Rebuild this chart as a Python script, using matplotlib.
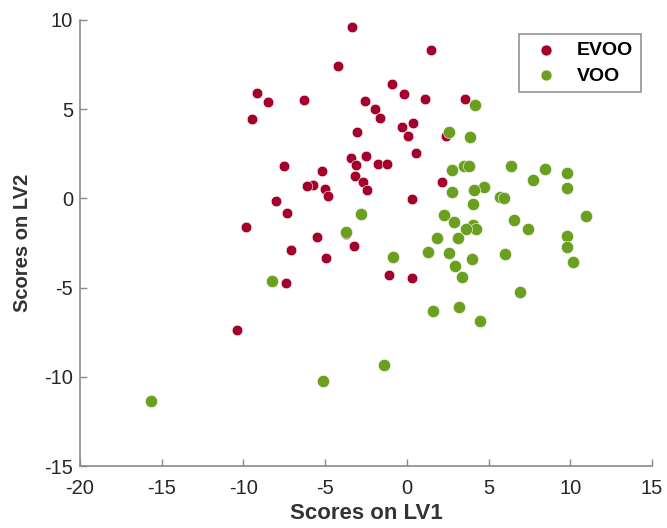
import matplotlib.pyplot as plt

plt.rcParams["font.family"] = ["Liberation Sans", "DejaVu Sans"]
plt.rcParams["axes.unicode_minus"] = False

# EVOO scores (LV1, LV2)
evoo_lv1 = [-3.37, 1.47, -4.24, -0.88, -9.20, -0.20, 1.08, 3.53, -6.29, -8.49,
            -2.55, -1.98, -1.65, -9.47, 0.37, -0.27, -3.06, 0.08, 2.39, 0.57,
            -2.51, -3.41, -1.76, -1.24, -3.12, -7.49, -5.20, -3.18, -2.67, 2.14,
            -5.77, -6.14, -5.02, -2.41, -4.85, -8.02, 0.31, -7.36, -9.87, -3.73,
            -5.53, -3.22, -7.06, -4.94, -1.10, 0.31, -7.41, -10.42]
evoo_lv2 = [9.63, 8.29, 7.43, 6.42, 5.90, 5.83, 5.55, 5.55, 5.49, 5.42,
            5.44, 5.01, 4.51, 4.45, 4.23, 3.98, 3.74, 3.48, 3.48, 2.53,
            2.36, 2.25, 1.90, 1.90, 1.88, 1.84, 1.56, 1.28, 0.93, 0.91,
            0.76, 0.69, 0.50, 0.45, 0.13, -0.13, -0.06, -0.80, -1.60, -2.01,
            -2.18, -2.66, -2.92, -3.33, -4.30, -4.45, -4.77, -7.36]

# VOO scores (LV1, LV2)
voo_lv1 = [4.14, 2.55, 3.88, 3.47, 3.82, 6.36, 2.79, 8.45, 9.81, 7.71,
           9.81, 4.73, 4.12, 2.79, 5.71, 5.96, 4.06, -2.82, 2.28, 10.97,
           6.57, 2.90, 4.02, 4.26, 3.61, 7.39, -3.73, 9.77, 3.10, 1.84,
           9.77, 1.27, 2.55, 6.00, -0.86, 3.96, 10.16, 2.94, 3.35, -8.26,
           6.92, 3.20, 1.57, 4.47, -5.14, -1.39, -15.65]
voo_lv2 = [5.25, 3.70, 3.45, 1.84, 1.84, 1.80, 1.58, 1.62, 1.40, 1.02,
           0.56, 0.63, 0.46, 0.37, 0.09, 0.04, -0.34, -0.86, -0.95, -0.99,
           -1.23, -1.32, -1.49, -1.69, -1.73, -1.73, -1.86, -2.11, -2.20, -2.23,
           -2.70, -2.98, -3.07, -3.13, -3.28, -3.37, -3.54, -3.78, -4.39, -4.62,
           -5.23, -6.11, -6.33, -6.85, -10.22, -9.33, -11.36]

RED = "#A3002B"
GREEN = "#6A9F1F"

fig = plt.figure(figsize=(6.67, 5.28), dpi=100)
ax = fig.add_axes([0.12, 0.1174, 0.8575, 0.8448])

ax.scatter(evoo_lv1, evoo_lv2, s=58, color=RED, edgecolor="white",
           linewidth=0.4, label="EVOO", zorder=3)
ax.scatter(voo_lv1, voo_lv2, s=78, color=GREEN, edgecolor="white",
           linewidth=0.4, label="VOO", zorder=3)

ax.set_xlim(-20, 15)
ax.set_ylim(-15, 10)
ax.set_xticks(range(-20, 16, 5))
ax.set_yticks(range(-15, 11, 5))

for side in ("top", "right"):
    ax.spines[side].set_visible(False)
for side in ("left", "bottom"):
    ax.spines[side].set_color("#8a8a8a")
    ax.spines[side].set_linewidth(1.2)
ax.tick_params(direction="in", length=5, width=1, color="#8a8a8a",
               labelsize=14.5, labelcolor="#262626")
ax.tick_params(axis="x", pad=9)
ax.tick_params(axis="y", pad=5)

ax.set_xlabel("Scores on LV1", fontsize=16, fontweight="bold",
              color="#333333", labelpad=4)
ax.set_ylabel("Scores on LV2", fontsize=14.5, fontweight="bold",
              color="#333333", labelpad=9)

leg = ax.legend(loc="upper right", bbox_to_anchor=(0.981, 0.969),
                borderaxespad=0, frameon=True, fancybox=False,
                prop={"weight": "bold", "size": 14},
                handletextpad=0.6, borderpad=0.4, labelspacing=0.4,
                scatterpoints=1)
leg.get_frame().set_edgecolor("#7a7a7a")
leg.get_frame().set_linewidth(1.2)
for h in leg.legend_handles:
    h.set_sizes([62])

fig.savefig("out.png", dpi=100)
